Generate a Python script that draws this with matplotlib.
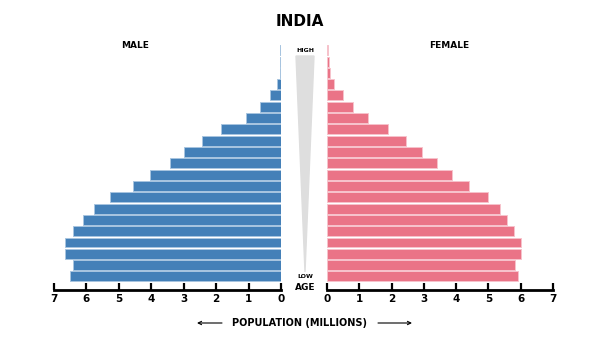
import matplotlib
matplotlib.use("Agg")
from matplotlib import pyplot as plt
from matplotlib.patches import Polygon, FancyArrowPatch

# age groups, youngest first (5-year bands)
ages = ["0-4", "5-9", "10-14", "15-19", "20-24", "25-29", "30-34", "35-39",
        "40-44", "45-49", "50-54", "55-59", "60-64", "65-69", "70-74",
        "75-79", "80-84", "85-89", "90-94", "95-99", "100+"]
# population in millions, same order as ages
male = [6.5, 6.42, 6.65, 6.65, 6.42, 6.11, 5.78, 5.27, 4.57, 4.03, 3.43,
        3.0, 2.44, 1.84, 1.09, 0.66, 0.34, 0.13, 0.04, 0.04, 0.03]
female = [5.92, 5.81, 6.0, 6.0, 5.8, 5.56, 5.36, 5.0, 4.39, 3.87, 3.42,
          2.95, 2.44, 1.9, 1.28, 0.8, 0.5, 0.22, 0.1, 0.07, 0.04]
ticks = [0, 1, 2, 3, 4, 5, 6, 7]

blue = "#4480b8"
pink = "#ea7487"
W, H = 600, 338


def fx(px):
    return px / W


def fy(py):
    return 1 - py / H


def setup(ax, flip):
    ax.set_ylim(-1.2, 20.55)
    ax.set_xlim((7, 0) if flip else (0, 7))
    for s in ("top", "left", "right"):
        ax.spines[s].set_visible(False)
    ax.spines["bottom"].set_linewidth(2)
    ax.set_yticks([])
    ax.set_xticks(ticks)
    ax.set_xticklabels([str(t) for t in ticks], fontsize=7.5, fontweight="bold")
    ax.tick_params(axis="x", direction="in", length=5, width=1.6, pad=3)


def main():
    fig = plt.figure(figsize=(6, 3.38), dpi=100)
    y = list(range(len(ages)))

    axl = fig.add_axes([fx(54), fy(290), fx(227), 246 / H])
    axl.barh(y, male, height=0.88, color=blue, edgecolor="#a8c5e0", linewidth=0.7)
    setup(axl, True)

    axr = fig.add_axes([fx(327), fy(290), fx(226), 246 / H])
    axr.barh(y, female, height=0.88, color=pink, edgecolor="#f7c3cc", linewidth=0.7)
    setup(axr, False)

    # age wedge in the middle
    wedge = Polygon([(fx(296), fy(56)), (fx(314), fy(56)), (fx(305), fy(272))],
                    closed=True, transform=fig.transFigure, color="#dedede")
    fig.patches.append(wedge)

    fig.text(0.5, fy(22), "INDIA", ha="center", va="center", fontsize=11, fontweight="bold")
    fig.text(fx(135), fy(46), "MALE", ha="center", va="center", fontsize=6.5, fontweight="bold")
    fig.text(fx(449), fy(46), "FEMALE", ha="center", va="center", fontsize=6.5, fontweight="bold")
    fig.text(fx(305), fy(50), "HIGH", ha="center", va="center", fontsize=4.5, fontweight="bold")
    fig.text(fx(305), fy(277), "LOW", ha="center", va="center", fontsize=4.5, fontweight="bold")
    fig.text(fx(305), fy(288), "AGE", ha="center", va="center", fontsize=6.5, fontweight="bold")
    fig.text(0.5, fy(323), "POPULATION (MILLIONS)", ha="center", va="center",
             fontsize=7, fontweight="bold")

    arrow = dict(arrowstyle="->", lw=0.8, color="black", mutation_scale=6,
                 shrinkA=0, shrinkB=0, transform=fig.transFigure)
    fig.add_artist(FancyArrowPatch((fx(222), fy(323)), (fx(197), fy(323)), **arrow))
    fig.add_artist(FancyArrowPatch((fx(378), fy(323)), (fx(412), fy(323)), **arrow))

    fig.savefig("out.png", dpi=100)


if __name__ == '__main__':
    main()
